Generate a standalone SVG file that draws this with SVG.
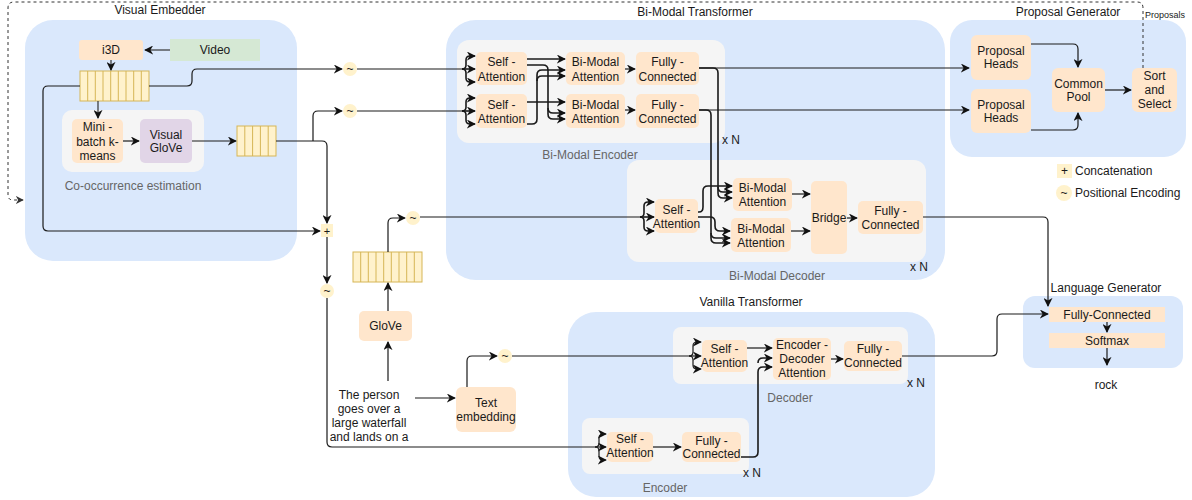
<svg xmlns="http://www.w3.org/2000/svg" width="1192" height="500" viewBox="0 0 1192 500">
<defs>
<marker id="a" viewBox="0 0 10 10" refX="9" refY="5" markerWidth="9" markerHeight="9" markerUnits="userSpaceOnUse" orient="auto"><path d="M0,0 L10,5 L0,10 L3,5 z" fill="#111"/></marker>
<marker id="ad" viewBox="0 0 10 10" refX="9" refY="5" markerWidth="8" markerHeight="8" markerUnits="userSpaceOnUse" orient="auto"><path d="M0,0 L10,5 L0,10 L3,5 z" fill="#333"/></marker>
</defs>
<style>
text{font-family:"Liberation Sans",Arial,sans-serif;font-size:12px;fill:#1a1a1a;text-anchor:middle}
.t{fill:#1a1a1a}
.gl{fill:#666}
.l{text-anchor:start}
.c{fill:#dae8fc}
.g{fill:#f5f5f5}
.p{fill:#ffe6cc}
.y{fill:#fff2cc}
.bar{fill:#fff2cc;stroke:#d6b656;stroke-width:1}
.cell{stroke:#d6b656;stroke-width:1}
.e path{fill:none;stroke:#1a1a1a;stroke-width:1.2}
.k{stroke-width:1.6 !important}
.ar{marker-end:url(#a)}
</style>

<!-- containers -->
<g id="visual-embedder">
<rect class="c" x="25" y="20" width="272" height="241" rx="28"/>
<text x="160" y="14">Visual Embedder</text>
</g>
<g id="bimodal-transformer">
<rect class="c" x="446" y="20" width="499" height="260" rx="30"/>
<text x="695" y="16">Bi-Modal Transformer</text>
</g>
<g id="proposal-generator">
<rect class="c" x="950" y="20" width="236" height="137" rx="22"/>
<text x="1068" y="16">Proposal Generator</text>
</g>
<g id="vanilla-transformer">
<rect class="c" x="568" y="312" width="367" height="185" rx="28"/>
<text x="751" y="306">Vanilla Transformer</text>
</g>
<g id="language-generator">
<rect class="c" x="1023" y="296" width="160" height="72" rx="12"/>
<text x="1106" y="292">Language Generator</text>
</g>

<!-- gray groups -->
<g id="cooccurrence">
<rect class="g" x="62" y="110" width="142" height="62" rx="10"/>
<text class="gl" x="133" y="190">Co-occurrence estimation</text>
</g>
<g id="bimodal-encoder">
<rect class="g" x="457" y="40" width="268" height="103" rx="12"/>
<text class="gl" x="590" y="159">Bi-Modal Encoder</text>
<text class="l" x="722" y="144">x N</text>
</g>
<g id="bimodal-decoder">
<rect class="g" x="627" y="160" width="299" height="102" rx="12"/>
<text class="gl" x="777" y="280">Bi-Modal Decoder</text>
<text class="l" x="910" y="271">x N</text>
</g>
<g id="vanilla-decoder">
<rect class="g" x="673" y="327" width="235" height="57" rx="8"/>
<text class="gl" x="790" y="402">Decoder</text>
<text class="l" x="907" y="387">x N</text>
</g>
<g id="vanilla-encoder">
<rect class="g" x="582" y="418" width="167" height="56" rx="8"/>
<text class="gl" x="665" y="492">Encoder</text>
<text class="l" x="743" y="477">x N</text>
</g>

<!-- visual embedder nodes -->
<g id="i3d"><rect class="p" x="79" y="40" width="64" height="20" rx="3"/><text x="111" y="54">i3D</text></g>
<g id="video"><rect x="170" y="39" width="90" height="22" fill="#d5e8d4"/><text x="215" y="54">Video</text></g>
<g id="visual-features">
<rect class="bar" x="80" y="71" width="69" height="30"/>
<path class="cell" d="M87.7,71V101M95.3,71V101M103,71V101M110.7,71V101M118.3,71V101M126,71V101M133.7,71V101M141.3,71V101"/>
</g>
<g id="mini-batch"><rect class="p" x="72" y="119" width="51" height="44" rx="5"/><text x="97.5" y="131">Mini -</text><text x="97.5" y="146">batch k-</text><text x="97.5" y="160">means</text></g>
<g id="visual-glove"><rect x="140" y="119" width="52" height="44" rx="5" fill="#e1d5e7"/><text x="166" y="139">Visual</text><text x="166" y="152">GloVe</text></g>
<g id="cooc-features">
<rect class="bar" x="237" y="126" width="39" height="30"/>
<path class="cell" d="M244.8,126V156M252.6,126V156M260.4,126V156M268.2,126V156"/>
</g>

<!-- operators -->
<g id="concat"><rect class="y" x="321" y="224" width="12" height="13"/><text x="327" y="234.5" style="font-size:11px">+</text></g>
<g id="pe-visual"><circle class="y" cx="350" cy="69" r="7"/><text x="350" y="73">~</text></g>
<g id="pe-audio"><circle class="y" cx="350" cy="111" r="7"/><text x="350" y="115">~</text></g>
<g id="pe-concat"><circle class="y" cx="327" cy="291" r="7"/><text x="327" y="295">~</text></g>
<g id="pe-glove"><circle class="y" cx="413" cy="218" r="7"/><text x="413" y="222">~</text></g>
<g id="pe-text"><circle class="y" cx="505" cy="356" r="7"/><text x="505" y="360">~</text></g>

<!-- text branch -->
<g id="caption"><text x="369" y="399">The person</text><text x="369" y="413">goes over a</text><text x="369" y="427">large waterfall</text><text x="369" y="441">and lands on a</text></g>
<g id="glove"><rect class="p" x="359" y="311" width="53" height="30" rx="5"/><text x="385.5" y="330">GloVe</text></g>
<g id="glove-features">
<rect class="bar" x="353" y="252" width="69" height="30"/>
<path class="cell" d="M360.7,252V282M368.3,252V282M376,252V282M383.7,252V282M391.3,252V282M399,252V282M406.7,252V282M414.3,252V282"/>
</g>
<g id="text-embedding"><rect class="p" x="456" y="387" width="60" height="45" rx="6"/><text x="486" y="407">Text</text><text x="486" y="421">embedding</text></g>

<!-- bi-modal encoder nodes -->
<g id="enc-sa1"><rect class="p" x="476" y="52" width="51" height="33" rx="5"/><text x="501.5" y="66">Self -</text><text x="501.5" y="81">Attention</text></g>
<g id="enc-sa2"><rect class="p" x="476" y="94" width="51" height="34" rx="5"/><text x="501.5" y="109">Self -</text><text x="501.5" y="123">Attention</text></g>
<g id="enc-bm1"><rect class="p" x="566" y="52" width="59" height="33" rx="5"/><text x="595.5" y="66">Bi-Modal</text><text x="595.5" y="81">Attention</text></g>
<g id="enc-bm2"><rect class="p" x="566" y="94" width="59" height="34" rx="5"/><text x="595.5" y="109">Bi-Modal</text><text x="595.5" y="123">Attention</text></g>
<g id="enc-fc1"><rect class="p" x="636" y="52" width="63" height="33" rx="5"/><text x="667.5" y="66">Fully -</text><text x="667.5" y="81">Connected</text></g>
<g id="enc-fc2"><rect class="p" x="636" y="94" width="63" height="34" rx="5"/><text x="667.5" y="109">Fully -</text><text x="667.5" y="123">Connected</text></g>

<!-- bi-modal decoder nodes -->
<g id="dec-sa"><rect class="p" x="655" y="199" width="43" height="34" rx="5"/><text x="676.5" y="214">Self -</text><text x="676.5" y="228">Attention</text></g>
<g id="dec-bm1"><rect class="p" x="733" y="178" width="59" height="33" rx="5"/><text x="762.5" y="192">Bi-Modal</text><text x="762.5" y="206">Attention</text></g>
<g id="dec-bm2"><rect class="p" x="731" y="218" width="60" height="34" rx="5"/><text x="761" y="233">Bi-Modal</text><text x="761" y="247">Attention</text></g>
<g id="bridge"><rect class="p" x="811" y="181" width="36" height="73" rx="5"/><text x="829" y="222">Bridge</text></g>
<g id="dec-fc"><rect class="p" x="858" y="201" width="65" height="33" rx="5"/><text x="890.5" y="215">Fully -</text><text x="890.5" y="229">Connected</text></g>

<!-- proposal generator nodes -->
<g id="ph1"><rect class="p" x="971" y="35" width="60" height="45" rx="6"/><text x="1001" y="55">Proposal</text><text x="1001" y="68">Heads</text></g>
<g id="ph2"><rect class="p" x="971" y="89" width="60" height="44" rx="6"/><text x="1001" y="109">Proposal</text><text x="1001" y="122">Heads</text></g>
<g id="common-pool"><rect class="p" x="1052" y="68" width="53" height="44" rx="6"/><text x="1078.5" y="88">Common</text><text x="1078.5" y="101">Pool</text></g>
<g id="sort-select"><rect class="p" x="1132" y="68" width="45" height="44" rx="6"/><text x="1154.5" y="80">Sort</text><text x="1154.5" y="94">and</text><text x="1154.5" y="108">Select</text></g>

<!-- vanilla transformer nodes -->
<g id="v-dec-sa"><rect class="p" x="702" y="340" width="45" height="32" rx="5"/><text x="724.5" y="353">Self -</text><text x="724.5" y="367">Attention</text></g>
<g id="v-dec-ed"><rect class="p" x="773" y="338" width="58" height="42" rx="5"/><text x="802" y="349">Encoder -</text><text x="802" y="363">Decoder</text><text x="802" y="377">Attention</text></g>
<g id="v-dec-fc"><rect class="p" x="844" y="341" width="58" height="30" rx="5"/><text x="873" y="353">Fully -</text><text x="873" y="367">Connected</text></g>
<g id="v-enc-sa"><rect class="p" x="607" y="432" width="46" height="30" rx="5"/><text x="630" y="443">Self -</text><text x="630" y="457">Attention</text></g>
<g id="v-enc-fc"><rect class="p" x="682" y="432" width="59" height="30" rx="5"/><text x="711.5" y="445">Fully -</text><text x="711.5" y="458">Connected</text></g>

<!-- language generator nodes -->
<g id="lg-fc"><rect class="p" x="1049" y="307" width="116" height="15"/><text x="1107" y="319">Fully-Connected</text></g>
<g id="lg-softmax"><rect class="p" x="1049" y="333" width="116" height="15"/><text x="1107" y="345">Softmax</text></g>
<g id="output-word"><text x="1106" y="389">rock</text></g>

<!-- legend -->
<g id="legend">
<rect class="y" x="1057" y="164" width="15" height="14"/><text x="1064.5" y="175">+</text>
<text class="l" x="1075" y="175">Concatenation</text>
<circle class="y" cx="1064" cy="193" r="8"/><text x="1064" y="197">~</text>
<text class="l" x="1075" y="197">Positional Encoding</text>
</g>

<!-- connectors -->
<g id="connectors" class="e">
<path class="ar" style="stroke:#333" d="M170,50 L145,50"/>
<path class="ar" style="stroke:#333" d="M111,60 L111,70"/>
<path class="ar" style="stroke:#333" d="M98,101 L98,118"/>
<path class="ar" d="M123,141 L139,141"/>
<path class="ar" d="M192,141 L236,141"/>
<path class="ar" d="M149,86 L187,86 Q192,86 192,81 L192,74 Q192,69 197,69 L342,69"/>
<path class="ar" d="M80,86 L48,86 Q43,86 43,91 L43,226 Q43,231 48,231 L320,231"/>
<path class="ar" d="M276,141 L322,141 Q327,141 327,146 L327,223"/>
<path class="ar" d="M313,141 L313,116 Q313,111 318,111 L342,111"/>
<path class="ar" d="M327,237 L327,283"/>
<path d="M357,69 L462,69"/>
<path class="ar k" d="M462,69 L475,69"/>
<path class="ar k" d="M462,69 Q466,69 466,65 L466,60 Q466,56 470,56 L475,56"/>
<path class="ar k" d="M462,69 Q466,69 466,73 L466,78 Q466,82 470,82 L475,82"/>
<path d="M357,111 L462,111"/>
<path class="ar k" d="M462,111 L475,111"/>
<path class="ar k" d="M462,111 Q466,111 466,107 L466,102 Q466,98 470,98 L475,98"/>
<path class="ar k" d="M462,111 Q466,111 466,115 L466,120 Q466,124 470,124 L475,124"/>
<path class="ar k" d="M527,59 L565,59"/>
<path class="ar k" d="M527,65 L543,65 Q548,65 548,70 L548,114 Q548,119 553,119 L565,119"/>
<path class="ar k" d="M548,108 Q548,113 553,113 L565,113"/>
<path class="ar k" d="M527,102 L565,102"/>
<path class="ar k" d="M527,124 L532,124 Q537,124 537,119 L537,75 Q537,70 542,70 L565,70"/>
<path class="ar k" d="M537,81 Q537,76 542,76 L565,76"/>
<path class="ar" d="M625,69 L635,69"/>
<path class="ar" d="M625,110 L635,110"/>
<path class="ar" d="M699,68 L969,68"/>
<path class="ar" d="M699,110 L969,110"/>
<path class="ar k" d="M699,68 L713,68 Q718,68 718,73 L718,193 Q718,198 723,198 L732,198"/>
<path class="ar k" d="M718,187 Q718,192 723,192 L732,192"/>
<path class="ar k" d="M699,110 L706,110 Q711,110 711,115 L711,238 Q711,243 716,243 L730,243"/>
<path class="ar k" d="M711,233 Q711,238 716,238 L730,238"/>
<path d="M420,217 L640,217"/>
<path class="ar k" d="M640,217 L654,217"/>
<path class="ar k" d="M640,217 Q644,217 644,213 L644,206 Q644,202 648,202 L654,202"/>
<path class="ar k" d="M640,217 Q644,217 644,221 L644,227 Q644,231 648,231 L654,231"/>
<path class="ar k" d="M698,212 L699,212 Q703,212 703,207 L703,191 Q703,186 708,186 L732,186"/>
<path class="ar k" d="M698,217 L710,217 Q715,217 715,222 L715,226 Q715,231 720,231 L730,231"/>
<path class="ar" d="M792,194 L810,194"/>
<path class="ar" d="M791,231 L810,231"/>
<path class="ar" d="M847,218 L857,218"/>
<path class="ar" d="M923,217 L1043,217 Q1048,217 1048,222 L1048,306"/>
<path class="ar" d="M1107,322 L1107,332"/>
<path class="ar" d="M1107,348 L1107,365"/>
<path class="ar" d="M1031,44 L1073,44 Q1078,44 1078,49 L1078,67"/>
<path class="ar" d="M1031,130 L1073,130 Q1078,130 1078,125 L1078,113"/>
<path class="ar" d="M1105,90 L1131,90"/>
<path style="stroke:#333;stroke-width:1;stroke-dasharray:3 3;marker-end:url(#ad)" d="M1143,68 L1143,8 Q1143,2 1137,2 L14,2 Q8,2 8,8 L8,195 Q8,200 13,200 L23,200"/>
<path class="ar" d="M388,381 L388,342"/>
<path class="ar" d="M388,311 L388,283"/>
<path class="ar" d="M388,252 L388,223 Q388,218 393,218 L405,218"/>
<path class="ar" d="M415,398 L455,398"/>
<path class="ar" d="M467,387 L467,361 Q467,356 472,356 L497,356"/>
<path d="M512,356 L689,356"/>
<path class="ar" d="M689,356 L701,356"/>
<path class="ar" d="M689,356 Q693,356 693,352 L693,346 Q693,342 697,342 L701,342"/>
<path class="ar" d="M689,356 Q693,356 693,360 L693,365 Q693,369 697,369 L701,369"/>
<path class="ar" d="M747,348 L772,348"/>
<path class="ar" d="M831,359 L843,359"/>
<path class="ar" d="M902,356 L992,356 Q997,356 997,351 L997,319 Q997,314 1002,314 L1048,314"/>
<path d="M327,298 L327,442 Q327,447 332,447 L595,447"/>
<path class="ar" d="M595,447 L606,447"/>
<path class="ar" d="M595,447 Q599,447 599,443 L599,438 Q599,434 603,434 L606,434"/>
<path class="ar" d="M595,447 Q599,447 599,451 L599,456 Q599,460 603,460 L606,460"/>
<path class="ar" d="M653,447 L681,447"/>
<path class="ar k" d="M741,457 L753,457 Q758,457 758,452 L758,372 Q758,367 763,367 L772,367"/>
<path class="ar k" d="M758,363 Q758,358 763,358 L772,358"/>
</g>
<text class="l" x="1145" y="18" style="font-size:9px">Proposals</text>
</svg>
